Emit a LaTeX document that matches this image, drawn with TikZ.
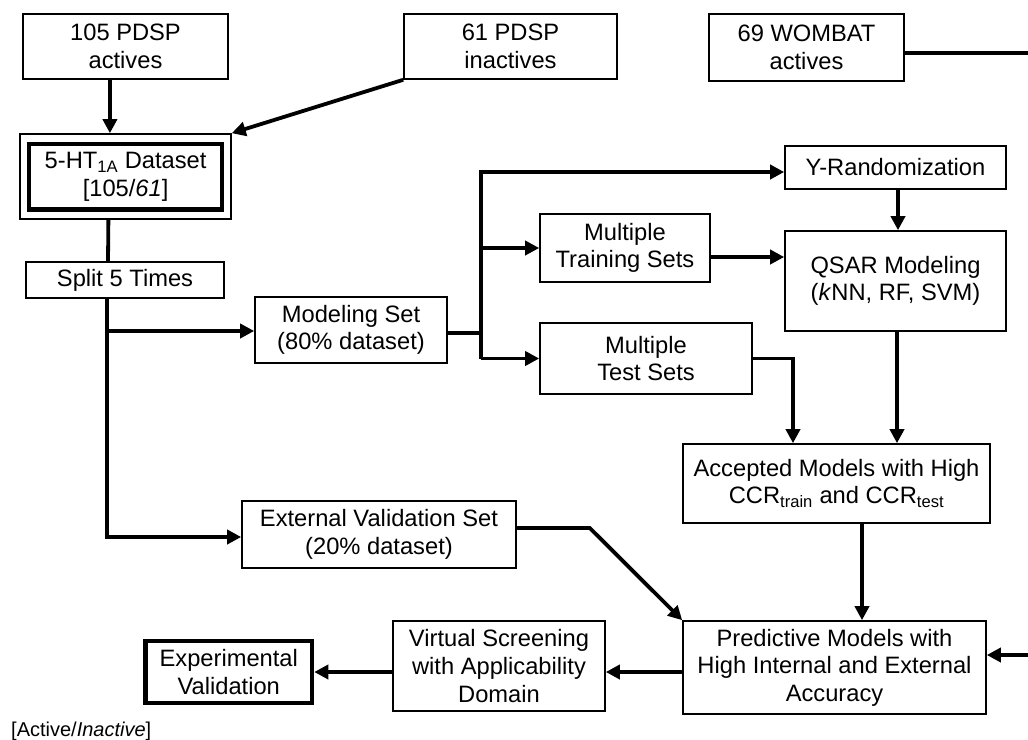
\documentclass[tikz,border=0pt]{standalone}
\usepackage{fontspec}
\setmainfont{Liberation Sans}
\usetikzlibrary{arrows.meta}
\newcommand\mainfs{\fontsize{23.7}{27.6}\selectfont}
\tikzset{
  box/.style={draw, line width=1.6pt, inner sep=0pt, align=center, font=\mainfs},
  heavybox/.style={box, line width=4.5pt},
  con/.style={line width=3.8pt, line join=miter},
  arr/.style={con, -{Triangle[length=14pt,width=14pt]}},
}
\begin{document}
\begin{tikzpicture}[x=1pt, y=-1pt]
\useasboundingbox (0,0) rectangle (1028,739);
\clip (0,0) rectangle (1028,739);

% nodes
\node[box, minimum width=205pt, minimum height=65pt] (a105) at (125.5,46.5) {105 PDSP\\actives};
\node[box, minimum width=213pt, minimum height=65pt] (a61) at (510.5,46.5) {61 PDSP\\inactives};
\node[box, minimum width=195pt, minimum height=67pt] (wombat) at (806.5,47.5) {69 WOMBAT\\actives};

\node[box, minimum width=211pt, minimum height=85pt] (ds) at (125.4,176.5) {};
\node[heavybox, minimum width=193pt, minimum height=65.5pt] (dsin) at (125.6,176.7) {5-HT\textsubscript{1A} Dataset\\{[}105/\textit{61}]};

\node[box, minimum width=198pt, minimum height=36pt] (split) at (125,280) {Split 5 Times};
\node[box, minimum width=192pt, minimum height=66pt] (mod) at (351,330) {Modeling Set\\(80\% dataset)};
\node[box, minimum width=221pt, minimum height=43pt] (yrand) at (895.5,167.5) {Y-Randomization};
\node[box, minimum width=170pt, minimum height=68pt] (train) at (625,248) {Multiple\\Training Sets};
\node[box, minimum width=221pt, minimum height=100pt] (qsar) at (895.5,281) {QSAR Modeling\\(\textit{k}NN, RF, SVM)};
\node[box, minimum width=212pt, minimum height=71pt] (test) at (646,358.5) {Multiple\\Test Sets};
\node[box, minimum width=307pt, minimum height=79pt] (acc) at (836.5,483.5) {Accepted Models with High\\CCR\textsubscript{train} and CCR\textsubscript{test}};
\node[box, minimum width=274pt, minimum height=67pt] (ext) at (379,534.5) {External Validation Set\\(20\% dataset)};
\node[box, minimum width=303pt, minimum height=93pt] (pred) at (834.5,667.5) {Predictive Models with\\High Internal and External\\Accuracy};
\node[box, minimum width=212pt, minimum height=90pt] (virt) at (499,666) {Virtual Screening\\with Applicability\\Domain};
\node[heavybox, minimum width=166.5pt, minimum height=62pt] (expval) at (228.75,672) {Experimental\\Validation};

\node[anchor=base west, inner sep=0pt, font=\fontsize{20}{24}\selectfont] (legend) at (11,736) {[Active/\textit{Inactive}]};

% connectors
\draw[arr] ([xshift=-15.5pt]a105.south) -- ([xshift=-15.5pt]ds.north);
\draw[arr] (a61.south west) -- (ds.north east);
\draw[con] ([xshift=-17pt]ds.south) -- ([xshift=-17pt]split.north);

\coordinate (sm) at (107,331);
\draw[arr] ([xshift=-18pt]split.south) |- ([yshift=-2.5pt]ext.west);
\draw[arr] (sm) -- (sm -| mod.west);

\coordinate (bt) at (481,172);
\coordinate (bm) at (481,248);
\coordinate (bb) at (481,358.5);
\draw[con] ([yshift=-3pt]mod.east) -- ([yshift=-3pt]mod.east -| bt);
\draw[arr] (bb) -- (bt) -- (bt -| yrand.west);
\draw[arr] (bm) -- (train.west);
\draw[arr] (bb) -- (test.west);

\draw[arr] ([xshift=2.5pt]yrand.south) -- ([xshift=2.5pt]qsar.north);
\draw[arr] ([yshift=-9pt]train.east) -- ([yshift=-9pt]train.east -| qsar.west);
\draw[arr] (test.east) -| ([xshift=-43.5pt]acc.north);
\draw[arr] ([xshift=1.5pt]qsar.south) -- ([xshift=1.5pt]qsar.south |- acc.north);
\draw[arr] ([xshift=25.5pt]acc.south) -- ([xshift=25.5pt]acc.south |- pred.north);
\draw[arr] ([yshift=6.5pt]ext.east) -- ++(73pt,0pt) -- (pred.north west);

\coordinate (wr) at (1045,53);
\coordinate (wr2) at (1045,655);
\draw[arr] (wombat.east |- wr) -- (wr) -- (wr2) -- (wr2 -| pred.east);

\draw[arr] ([yshift=-4.5pt]pred.west) -- ([yshift=-4.5pt]pred.west -| virt.east);
\draw[arr] (virt.west |- expval.east) -- (expval.east);
\end{tikzpicture}
\end{document}
